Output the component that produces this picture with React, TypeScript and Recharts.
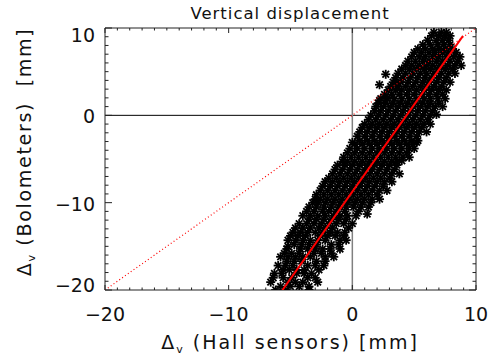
import { ScatterChart, Scatter, XAxis, YAxis, ReferenceLine } from "recharts";

// Tick positions (every 1 mm, labelled every 10 mm)
const majorTicks = [-20, -10, 0, 10];
const allTicks = [
  -20, -19, -18, -17, -16, -15, -14, -13, -12, -11, -10, -9, -8, -7, -6, -5, -4, -3, -2, -1,
  0, 1, 2, 3, 4, 5, 6, 7, 8, 9, 10,
];

// Scatter cloud: [Δv bolometers, [Δv hall sensors ...]]
const cloudRows: [number, number[]][] = [
  [9.5, [6.6, 7.2, 7.6]],
  [9.1, [6.4, 7.0, 7.5, 7.9]],
  [8.6, [6.1, 6.8, 7.3, 7.8]],
  [8.1, [5.7, 6.3, 6.9, 7.4, 7.9]],
  [7.6, [5.3, 5.9, 6.5, 7.0, 7.5, 8.1]],
  [7.2, [5.0, 5.6, 6.2, 6.7, 7.3, 7.8, 8.4]],
  [6.7, [4.8, 5.4, 5.9, 6.5, 7.0, 7.6, 8.2, 8.7]],
  [6.2, [4.5, 5.1, 5.7, 6.2, 6.8, 7.3, 7.9, 8.5]],
  [5.7, [4.3, 4.8, 5.4, 6.0, 6.5, 7.1, 7.7, 8.3, 8.8]],
  [5.3, [4.0, 4.6, 5.2, 5.8, 6.3, 6.9, 7.5, 8.1]],
  [4.8, [3.7, 4.3, 4.9, 5.5, 6.0, 6.6, 7.2, 7.8, 8.3]],
  [4.3, [3.5, 4.1, 4.7, 5.3, 5.9, 6.4, 7.0, 7.6]],
  [3.8, [3.3, 3.9, 4.5, 5.1, 5.7, 6.2, 6.8, 7.4, 7.9]],
  [3.3, [3.1, 3.7, 4.3, 4.9, 5.5, 6.0, 6.6, 7.2]],
  [2.9, [2.9, 3.5, 4.0, 4.6, 5.2, 5.8, 6.4, 7.0, 7.6]],
  [2.4, [2.6, 3.2, 3.8, 4.4, 5.0, 5.6, 6.2, 6.8, 7.3]],
  [1.9, [2.3, 2.8, 3.4, 4.0, 4.6, 5.2, 5.8, 6.3, 6.9, 7.5]],
  [1.4, [2.1, 2.7, 3.3, 3.9, 4.5, 5.1, 5.7, 6.3, 7.0]],
  [1.0, [1.9, 2.5, 3.1, 3.7, 4.3, 4.9, 5.5, 6.1, 6.7, 7.3]],
  [0.5, [1.8, 2.3, 2.9, 3.5, 4.1, 4.7, 5.3, 5.9, 6.5]],
  [0.0, [1.5, 2.1, 2.7, 3.3, 3.9, 4.5, 5.1, 5.7, 6.3]],
  [-0.5, [1.3, 1.9, 2.5, 3.1, 3.7, 4.3, 4.9, 5.5, 6.1]],
  [-1.0, [1.0, 1.6, 2.2, 2.8, 3.4, 4.0, 4.6, 5.2, 5.8, 6.3]],
  [-1.4, [0.8, 1.4, 2.0, 2.6, 3.2, 3.8, 4.4, 5.0, 5.6]],
  [-1.9, [0.6, 1.2, 1.8, 2.4, 3.0, 3.6, 4.2, 4.8, 5.4, 6.0]],
  [-2.4, [0.4, 1.0, 1.6, 2.2, 2.8, 3.4, 4.0, 4.6, 5.2]],
  [-2.9, [0.6, 1.2, 1.8, 2.4, 3.0, 3.6, 4.2, 4.8, 5.3]],
  [-3.3, [0.2, 0.8, 1.4, 2.0, 2.6, 3.2, 3.8, 4.4, 4.9]],
  [-3.8, [-0.2, 0.4, 1.0, 1.6, 2.2, 2.8, 3.4, 4.0, 4.6, 5.0]],
  [-4.3, [-0.4, 0.2, 0.8, 1.4, 2.0, 2.6, 3.2, 3.8, 4.4]],
  [-4.8, [-0.7, -0.1, 0.5, 1.1, 1.7, 2.3, 2.9, 3.5, 4.1, 4.6]],
  [-5.3, [-0.4, 0.2, 0.8, 1.4, 2.0, 2.6, 3.2, 3.6]],
  [-5.7, [-1.2, -0.6, 0.0, 0.6, 1.2, 1.8, 2.4, 3.0, 3.6]],
  [-6.2, [-1.4, -0.8, -0.2, 0.4, 1.0, 1.6, 2.2, 2.8, 3.4]],
  [-6.7, [-1.6, -1.0, -0.4, 0.2, 0.8, 1.4, 2.0, 2.6, 3.2, 3.8]],
  [-7.2, [-1.9, -1.3, -0.7, -0.1, 0.5, 1.1, 1.7, 2.3, 3.0]],
  [-7.6, [-2.2, -1.6, -1.0, -0.4, 0.2, 0.8, 1.4, 2.0, 2.6, 3.2]],
  [-8.1, [-2.4, -1.8, -1.2, -0.6, 0.0, 0.6, 1.2, 1.8, 2.5]],
  [-8.6, [-2.6, -2.0, -1.4, -0.8, -0.2, 0.4, 1.0, 1.6, 2.2, 2.8]],
  [-9.1, [-2.9, -2.3, -1.7, -1.1, -0.5, 0.1, 0.7, 1.3, 2.0]],
  [-9.6, [-3.0, -2.6, -2.0, -1.4, -0.8, -0.2, 0.4, 1.0, 1.6, 2.2]],
  [-10.0, [-2.8, -2.2, -1.6, -1.0, -0.4, 0.2, 0.8, 1.5]],
  [-10.5, [-3.5, -2.9, -2.3, -1.7, -1.1, -0.5, 0.1, 0.7, 1.3]],
  [-11.0, [-3.7, -3.1, -2.4, -1.9, -1.3, -0.6, 0.5]],
  [-11.5, [-4.0, -3.4, -2.8, -2.2, -1.5, -1.0, -0.4, 0.3]],
  [-11.9, [-3.5, -2.9, -2.3, -1.7, -1.1, -0.5]],
  [-12.4, [-4.3, -3.7, -3.1, -2.5, -1.9, -1.3, -0.7, 0.0]],
  [-12.9, [-4.6, -4.0, -3.4, -2.7, -2.2, -1.6, -0.3]],
  [-13.4, [-4.8, -4.2, -3.6, -3.0, -2.4, -1.8, -1.2, -0.6]],
  [-13.8, [-5.0, -4.4, -3.8, -2.6, -2.0, -1.4, -0.7]],
  [-14.3, [-5.2, -4.6, -4.0, -3.4, -2.8, -2.2, -1.0, -0.5]],
  [-14.8, [-4.7, -4.1, -3.5, -2.9, -1.7, -1.1]],
  [-15.3, [-5.3, -4.2, -3.6, -3.0, -2.4, -1.8]],
  [-15.8, [-5.5, -4.9, -4.3, -3.1, -2.5, -1.7]],
  [-16.2, [-5.8, -5.2, -4.6, -4.0, -3.4, -2.2, -1.5]],
  [-16.7, [-5.3, -4.7, -4.1, -2.9, -2.2]],
  [-17.2, [-6.0, -5.4, -4.8, -3.6, -3.0, -2.3]],
  [-17.7, [-5.1, -4.5, -3.9, -2.7]],
  [-18.1, [-6.3, -5.7, -4.5, -3.9, -3.3]],
  [-18.6, [-6.4, -5.6, -4.9, -3.6, -3.0]],
  [-19.1, [-6.6, -5.2, -4.6, -4.0, -2.8]],
  [-19.6, [-5.8, -5.0, -4.3, -3.5]],
  [-20.0, [-6.2, -5.4, -3.5]],
];

// stray points outside the main band
const outliers: [number, number][] = [
  [2.7, 4.7], [2.2, 3.5], [2.8, 2.0], [2.2, 1.7], [3.6, 3.7], [6.8, 0.1],
  [0.0, -3.1], [5.2, -3.1], [-0.8, -5.3], [4.0, -5.2], [-3.2, -10.0],
  [1.2, -11.3], [-5.2, -15.0], [-1.0, -15.3], [-5.6, -17.7],
];

// linear fit (solid) and the 1:1 reference (dotted)
const fitLine = [
  { x: -5.65, y: -20 },
  { x: 8.95, y: 9.1 },
];
const identityLine = [
  { x: -20, y: -20 },
  { x: 10, y: 10 },
];

const points = [
  ...cloudRows.flatMap(([y, xs]) => xs.map((x) => ({ x, y }))),
  ...outliers.map(([x, y]) => ({ x, y })),
];

const FONT = "'DejaVu Sans', sans-serif";
const INK = "#222";
const fmt = (v: number) => (v < 0 ? "\u2212" + Math.abs(v) : String(v));
const isMajor = (v: number) => majorTicks.includes(v);

function Star({ cx, cy }: any) {
  if (cx == null || cy == null) return <g />;
  const r = 4.5;
  const d = 3.3;
  return (
    <g stroke="#000" strokeWidth={1.8}>
      <line x1={cx - r} y1={cy} x2={cx + r} y2={cy} />
      <line x1={cx} y1={cy - r} x2={cx} y2={cy + r} />
      <line x1={cx - d} y1={cy - d} x2={cx + d} y2={cy + d} />
      <line x1={cx - d} y1={cy + d} x2={cx + d} y2={cy - d} />
    </g>
  );
}

function BottomTick({ x, y, payload }: any) {
  const v = payload.value;
  return (
    <g>
      <line x1={x} x2={x} y1={y} y2={y - (isMajor(v) ? 5 : 2.5)} stroke={INK} />
      {isMajor(v) && (
        <text x={x} y={y + 31} textAnchor="middle" fontSize={19} fontFamily={FONT} fill="#111">
          {fmt(v)}
        </text>
      )}
    </g>
  );
}

function TopTick({ x, y, payload }: any) {
  const v = payload.value;
  return <line x1={x} x2={x} y1={y} y2={y + (isMajor(v) ? 5 : 2.5)} stroke={INK} />;
}

function LeftTick({ x, y, payload }: any) {
  const v = payload.value;
  // IDL nudges the end labels inside the box
  const dy = v === 10 ? 14 : v === -20 ? 2 : 8;
  return (
    <g>
      <line x1={x} x2={x + (isMajor(v) ? 7 : 3.5)} y1={y} y2={y} stroke={INK} />
      {isMajor(v) && (
        <text x={x - 10} y={y + dy} textAnchor="end" fontSize={19} fontFamily={FONT} fill="#111">
          {fmt(v)}
        </text>
      )}
    </g>
  );
}

function RightTick({ x, y, payload }: any) {
  const v = payload.value;
  return <line x1={x} x2={x - (isMajor(v) ? 7 : 3.5)} y1={y} y2={y} stroke={INK} />;
}

export default function App() {
  const axisCommon = {
    type: "number" as const,
    domain: [-20, 10],
    ticks: allTicks,
    interval: 0,
    tickSize: 0,
    tickMargin: 0,
    allowDataOverflow: true,
    tickLine: false,
    axisLine: { stroke: INK },
  };
  return (
    <div style={{ position: "absolute", left: 0, top: 0, width: 491, height: 358, background: "#fff" }}>
      <ScatterChart width={491} height={358} margin={{ top: 27, right: 14, bottom: 67, left: 104 }}>
        <XAxis {...axisCommon} xAxisId="b" dataKey="x" orientation="bottom" height={1} tick={(p: any) => <BottomTick {...p} />} />
        <XAxis {...axisCommon} xAxisId="t" dataKey="x" orientation="top" height={1} tick={(p: any) => <TopTick {...p} />} />
        <YAxis {...axisCommon} yAxisId="l" dataKey="y" orientation="left" width={1} tick={(p: any) => <LeftTick {...p} />} />
        <YAxis {...axisCommon} yAxisId="r" dataKey="y" orientation="right" width={1} tick={(p: any) => <RightTick {...p} />} />
        <ReferenceLine xAxisId="b" yAxisId="l" y={0} stroke="#000" strokeWidth={1} />
        <ReferenceLine xAxisId="b" yAxisId="l" x={0} stroke="#808080" strokeWidth={1.5} />
        <Scatter xAxisId="b" yAxisId="l" data={points} shape={(p: any) => <Star {...p} />} isAnimationActive={false} />
        <Scatter
          xAxisId="t"
          yAxisId="r"
          data={identityLine}
          line={{ stroke: "#ff0000", strokeWidth: 1.2, strokeDasharray: "1 2.5" }}
          shape={() => <g />}
          isAnimationActive={false}
        />
        <Scatter
          xAxisId="b"
          yAxisId="l"
          data={fitLine}
          line={{ stroke: "#ff0000", strokeWidth: 2 }}
          shape={() => <g />}
          isAnimationActive={false}
        />
      </ScatterChart>
      <svg width={491} height={358} style={{ position: "absolute", left: 0, top: 0, pointerEvents: "none" }}>
        <g fontFamily={FONT} fill="#111">
          <text x={290} y={19} textAnchor="middle" fontSize={16.5} letterSpacing={1}>
            Vertical displacement
          </text>
          <text x={290} y={349} textAnchor="middle" fontSize={19} letterSpacing={2} style={{ whiteSpace: "pre" }}>
            Δ<tspan fontSize={11} dy={4}>v</tspan>
            <tspan dy={-4}> (Hall sensors) [mm]</tspan>
          </text>
          <text
            transform="translate(31,152) rotate(-90)"
            textAnchor="middle"
            fontSize={19}
            letterSpacing={1.7}
            style={{ whiteSpace: "pre" }}
          >
            Δ<tspan fontSize={11} dy={4}>v</tspan>
            <tspan dy={-4}> (Bolometers)  [mm]</tspan>
          </text>
        </g>
      </svg>
    </div>
  );
}
